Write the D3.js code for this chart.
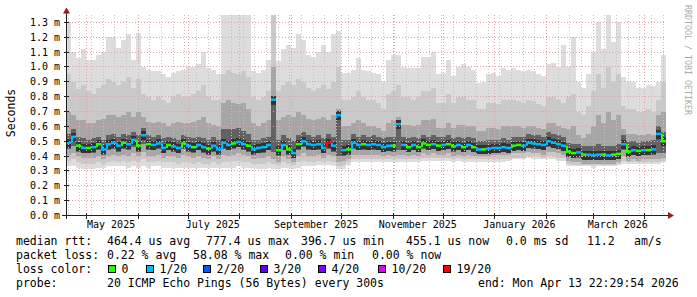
<!DOCTYPE html>
<html>
<head>
<meta charset="utf-8">
<script src="https://cdn.jsdelivr.net/npm/d3@7"></script>
<style>
  body { margin: 0; background: #fff; }
  text { font-family: "DejaVu Sans Mono", monospace; fill: #000; }
</style>
</head>
<body>
<div id="chart"></div>
<script>
// time span of the graph, one column every 3 days
const startTime = new Date(2025, 3, 18, 22, 29, 54);
const endTime = new Date(2026, 3, 13, 22, 29, 54);
const stepDays = 3;

const yTicks = [0, 0.1, 0.2, 0.3, 0.4, 0.5, 0.6, 0.7, 0.8, 0.9, 1.0, 1.1, 1.2, 1.3];

// median rtt per column (ms)
const medianRtt = [
  0.49, 0.53, 0.47, 0.455, 0.455, 0.46, 0.48, 0.445, 0.48, 0.49,
  0.47, 0.49, 0.48, 0.51, 0.47, 0.54, 0.48, 0.475, 0.485, 0.455,
  0.475, 0.465, 0.455, 0.485, 0.47, 0.46, 0.475, 0.46, 0.45, 0.47,
  0.445, 0.49, 0.475, 0.485, 0.495, 0.48, 0.47, 0.445, 0.455, 0.46,
  0.475, 0.78, 0.44, 0.475, 0.445, 0.42, 0.48, 0.50, 0.48, 0.475,
  0.48, 0.455, 0.49, 0.47, 0.675, 0.44, 0.445, 0.49, 0.475, 0.48,
  0.475, 0.48, 0.475, 0.46, 0.47, 0.47, 0.615, 0.475, 0.46, 0.475,
  0.46, 0.485, 0.475, 0.48, 0.47, 0.475, 0.48, 0.465, 0.475, 0.46,
  0.475, 0.46, 0.445, 0.445, 0.45, 0.455, 0.455, 0.46, 0.455, 0.47,
  0.475, 0.47, 0.49, 0.485, 0.48, 0.475, 0.50, 0.49, 0.48, 0.47,
  0.43, 0.42, 0.425, 0.41, 0.41, 0.405, 0.41, 0.41, 0.405, 0.41,
  0.415, 0.48, 0.43, 0.44, 0.435, 0.44, 0.44, 0.445, 0.55, 0.50
];

// lost pings out of 20 per column
const lossCount = [
  1, 1, 0, 1, 0, 1, 0, 1, 1, 1,
  1, 0, 1, 1, 0, 1, 0, 1, 1, 1,
  0, 1, 1, 0, 1, 0, 1, 1, 0, 1,
  1, 1, 1, 0, 1, 1, 0, 1, 1, 1,
  1, 1, 0, 1, 0, 1, 0, 1, 1, 1,
  1, 1, 19, 1, 1, 1, 0, 1, 1, 0,
  1, 1, 1, 1, 1, 0, 1, 1, 0, 1,
  0, 0, 0, 1, 0, 1, 0, 0, 1, 0,
  1, 0, 1, 0, 1, 1, 1, 1, 1, 0,
  0, 1, 1, 1, 1, 1, 1, 1, 1, 1,
  0, 0, 1, 0, 1, 1, 1, 0, 1, 0,
  0, 1, 0, 1, 0, 1, 0, 1, 1, 0
];

// smoke: sorted ping quantiles per column (ms)
const pingMax = [
  1.30, 1.10, 1.06, 1.12, 1.05, 1.05, 1.08, 1.10, 1.20, 1.20,
  1.13, 1.18, 1.22, 1.05, 1.23, 1.00, 0.98, 0.97, 0.97, 0.95,
  0.93, 0.96, 0.97, 0.98, 1.00, 1.00, 1.02, 1.10, 0.99, 0.98,
  0.95, 1.35, 1.35, 1.35, 1.35, 1.35, 1.35, 0.97, 0.96, 0.98,
  1.05, 1.35, 1.04, 1.12, 1.15, 1.13, 1.22, 1.18, 1.08, 1.07,
  1.10, 1.15, 1.10, 1.22, 1.24, 0.96, 0.96, 0.98, 1.06, 0.98,
  0.97, 0.96, 0.95, 0.90, 1.05, 1.08, 1.08, 1.00, 0.99, 0.99,
  0.99, 1.07, 1.07, 1.10, 0.95, 0.96, 1.05, 0.94, 1.00, 1.02,
  1.00, 0.98, 0.89, 0.90, 0.95, 0.96, 0.94, 0.99, 0.98, 0.99,
  0.98, 0.97, 0.98, 0.97, 0.95, 0.94, 1.02, 1.03, 1.00, 1.15,
  1.00, 1.20, 0.90, 0.86, 0.95, 1.10, 1.30, 1.12, 1.35, 1.17,
  1.30, 0.93, 0.90, 0.90, 0.86, 0.86, 0.88, 0.87, 0.90, 1.08
];
const pingQ90 = [
  0.95, 0.90, 0.85, 0.88, 0.84, 0.82, 0.86, 0.88, 0.92, 0.90,
  0.88, 0.90, 0.93, 0.86, 0.92, 0.82, 0.80, 0.78, 0.80, 0.78,
  0.76, 0.80, 0.82, 0.80, 0.80, 0.82, 0.84, 0.88, 0.80, 0.78,
  0.78, 0.95, 0.98, 0.96, 0.95, 0.97, 0.93, 0.80, 0.78, 0.80,
  0.84, 1.35, 0.84, 0.88, 0.90, 0.88, 0.92, 0.90, 0.86, 0.84,
  0.86, 0.88, 0.85, 0.90, 1.00, 0.78, 0.78, 0.80, 0.84, 0.80,
  0.78, 0.78, 0.76, 0.72, 0.82, 0.84, 0.88, 0.80, 0.80, 0.78,
  0.80, 0.84, 0.84, 0.86, 0.76, 0.76, 0.82, 0.76, 0.80, 0.80,
  0.78, 0.78, 0.72, 0.72, 0.76, 0.76, 0.75, 0.78, 0.78, 0.78,
  0.77, 0.76, 0.78, 0.77, 0.75, 0.74, 0.80, 0.80, 0.78, 0.76,
  0.80, 0.82, 0.70, 0.68, 0.74, 0.84, 0.95, 0.86, 1.00, 0.90,
  0.95, 0.74, 0.72, 0.72, 0.70, 0.70, 0.72, 0.70, 0.78, 0.90
];
const pingQ75 = [
  0.70, 0.68, 0.64, 0.64, 0.62, 0.62, 0.64, 0.65, 0.68, 0.68,
  0.66, 0.68, 0.70, 0.66, 0.70, 0.66, 0.63, 0.62, 0.63, 0.62,
  0.60, 0.62, 0.63, 0.62, 0.62, 0.63, 0.64, 0.66, 0.62, 0.61,
  0.60, 0.76, 0.78, 0.76, 0.75, 0.76, 0.72, 0.62, 0.60, 0.62,
  0.64, 1.00, 0.64, 0.66, 0.68, 0.66, 0.70, 0.68, 0.65, 0.64,
  0.65, 0.66, 0.64, 0.68, 0.72, 0.60, 0.60, 0.62, 0.64, 0.62,
  0.60, 0.60, 0.59, 0.57, 0.62, 0.64, 0.66, 0.61, 0.61, 0.60,
  0.61, 0.64, 0.64, 0.65, 0.59, 0.59, 0.62, 0.59, 0.61, 0.61,
  0.60, 0.60, 0.57, 0.57, 0.59, 0.59, 0.58, 0.60, 0.60, 0.60,
  0.60, 0.59, 0.60, 0.60, 0.59, 0.58, 0.62, 0.62, 0.60, 0.59,
  0.58, 0.60, 0.54, 0.52, 0.55, 0.60, 0.68, 0.62, 0.70, 0.64,
  0.68, 0.58, 0.55, 0.55, 0.54, 0.54, 0.55, 0.54, 0.68, 0.70
];
const pingQ60 = [
  0.55, 0.58, 0.53, 0.52, 0.51, 0.52, 0.53, 0.51, 0.54, 0.55,
  0.53, 0.55, 0.54, 0.56, 0.54, 0.59, 0.54, 0.53, 0.54, 0.52,
  0.53, 0.52, 0.51, 0.54, 0.53, 0.52, 0.53, 0.52, 0.51, 0.53,
  0.51, 0.58, 0.58, 0.58, 0.59, 0.57, 0.55, 0.51, 0.51, 0.52,
  0.53, 0.80, 0.51, 0.54, 0.52, 0.50, 0.54, 0.56, 0.54, 0.53,
  0.54, 0.52, 0.55, 0.53, 0.69, 0.51, 0.51, 0.55, 0.53, 0.54,
  0.53, 0.54, 0.53, 0.52, 0.53, 0.53, 0.63, 0.53, 0.52, 0.53,
  0.52, 0.54, 0.53, 0.54, 0.53, 0.53, 0.54, 0.52, 0.53, 0.52,
  0.53, 0.52, 0.50, 0.50, 0.51, 0.51, 0.51, 0.52, 0.51, 0.53,
  0.53, 0.53, 0.55, 0.54, 0.54, 0.53, 0.56, 0.55, 0.54, 0.53,
  0.49, 0.48, 0.48, 0.47, 0.47, 0.47, 0.48, 0.47, 0.47, 0.47,
  0.48, 0.54, 0.50, 0.50, 0.49, 0.50, 0.50, 0.51, 0.60, 0.56
];
const pingQ40 = [
  0.45, 0.47, 0.43, 0.42, 0.42, 0.42, 0.44, 0.41, 0.44, 0.45,
  0.43, 0.45, 0.44, 0.46, 0.43, 0.48, 0.44, 0.44, 0.45, 0.42,
  0.44, 0.43, 0.42, 0.45, 0.43, 0.42, 0.44, 0.42, 0.41, 0.43,
  0.41, 0.45, 0.44, 0.45, 0.46, 0.44, 0.43, 0.41, 0.42, 0.42,
  0.44, 0.43, 0.40, 0.44, 0.41, 0.39, 0.44, 0.46, 0.44, 0.44,
  0.44, 0.42, 0.45, 0.43, 0.40, 0.40, 0.41, 0.45, 0.44, 0.44,
  0.44, 0.44, 0.44, 0.43, 0.44, 0.43, 0.44, 0.44, 0.43, 0.44,
  0.43, 0.45, 0.44, 0.45, 0.44, 0.44, 0.45, 0.43, 0.44, 0.43,
  0.44, 0.43, 0.42, 0.42, 0.42, 0.43, 0.43, 0.43, 0.43, 0.44,
  0.44, 0.44, 0.46, 0.45, 0.45, 0.44, 0.46, 0.46, 0.45, 0.44,
  0.40, 0.39, 0.39, 0.38, 0.38, 0.38, 0.38, 0.38, 0.38, 0.38,
  0.39, 0.44, 0.40, 0.41, 0.40, 0.41, 0.41, 0.41, 0.42, 0.42
];
const pingQ25 = [
  0.41, 0.42, 0.40, 0.39, 0.39, 0.39, 0.40, 0.38, 0.40, 0.41,
  0.40, 0.41, 0.40, 0.42, 0.40, 0.43, 0.40, 0.40, 0.41, 0.39,
  0.40, 0.40, 0.39, 0.41, 0.40, 0.39, 0.40, 0.39, 0.38, 0.40,
  0.38, 0.41, 0.40, 0.41, 0.42, 0.41, 0.40, 0.38, 0.39, 0.39,
  0.40, 0.38, 0.36, 0.40, 0.38, 0.36, 0.40, 0.42, 0.40, 0.40,
  0.41, 0.39, 0.41, 0.40, 0.36, 0.37, 0.38, 0.41, 0.41, 0.41,
  0.41, 0.41, 0.41, 0.40, 0.41, 0.40, 0.41, 0.41, 0.40, 0.41,
  0.40, 0.42, 0.41, 0.42, 0.41, 0.41, 0.42, 0.40, 0.41, 0.40,
  0.41, 0.40, 0.40, 0.40, 0.40, 0.41, 0.41, 0.41, 0.41, 0.42,
  0.42, 0.42, 0.43, 0.42, 0.42, 0.41, 0.43, 0.43, 0.42, 0.41,
  0.37, 0.36, 0.36, 0.35, 0.35, 0.35, 0.35, 0.35, 0.35, 0.35,
  0.36, 0.40, 0.37, 0.38, 0.37, 0.38, 0.38, 0.38, 0.38, 0.39
];
const pingQ10 = [
  0.37, 0.38, 0.36, 0.35, 0.35, 0.35, 0.36, 0.35, 0.36, 0.37,
  0.36, 0.37, 0.36, 0.37, 0.36, 0.38, 0.36, 0.36, 0.37, 0.36,
  0.36, 0.36, 0.35, 0.36, 0.36, 0.35, 0.36, 0.35, 0.35, 0.36,
  0.35, 0.36, 0.36, 0.37, 0.37, 0.36, 0.36, 0.35, 0.35, 0.35,
  0.36, 0.35, 0.34, 0.36, 0.35, 0.34, 0.36, 0.37, 0.36, 0.36,
  0.37, 0.36, 0.37, 0.36, 0.33, 0.34, 0.36, 0.38, 0.38, 0.38,
  0.38, 0.38, 0.38, 0.38, 0.38, 0.38, 0.38, 0.38, 0.38, 0.38,
  0.38, 0.39, 0.39, 0.39, 0.39, 0.39, 0.39, 0.38, 0.39, 0.38,
  0.38, 0.38, 0.38, 0.38, 0.38, 0.38, 0.38, 0.38, 0.38, 0.39,
  0.39, 0.39, 0.40, 0.40, 0.40, 0.39, 0.40, 0.40, 0.39, 0.39,
  0.35, 0.34, 0.34, 0.34, 0.34, 0.34, 0.34, 0.34, 0.34, 0.34,
  0.35, 0.37, 0.36, 0.36, 0.36, 0.36, 0.36, 0.36, 0.36, 0.37
];
const pingMin = [
  0.33, 0.33, 0.32, 0.31, 0.31, 0.31, 0.32, 0.32, 0.33, 0.33,
  0.33, 0.33, 0.32, 0.33, 0.32, 0.33, 0.32, 0.33, 0.33, 0.32,
  0.32, 0.32, 0.32, 0.32, 0.32, 0.32, 0.32, 0.32, 0.32, 0.32,
  0.32, 0.32, 0.32, 0.32, 0.33, 0.32, 0.32, 0.32, 0.31, 0.31,
  0.32, 0.31, 0.31, 0.32, 0.32, 0.31, 0.32, 0.33, 0.33, 0.33,
  0.34, 0.34, 0.34, 0.33, 0.31, 0.31, 0.34, 0.36, 0.36, 0.36,
  0.36, 0.36, 0.36, 0.36, 0.36, 0.36, 0.36, 0.36, 0.36, 0.36,
  0.36, 0.37, 0.37, 0.37, 0.37, 0.37, 0.37, 0.36, 0.37, 0.36,
  0.36, 0.36, 0.36, 0.36, 0.36, 0.36, 0.36, 0.36, 0.37, 0.38,
  0.38, 0.38, 0.39, 0.38, 0.38, 0.38, 0.38, 0.38, 0.37, 0.37,
  0.33, 0.33, 0.33, 0.33, 0.33, 0.32, 0.33, 0.33, 0.33, 0.33,
  0.34, 0.35, 0.35, 0.35, 0.35, 0.35, 0.35, 0.35, 0.35, 0.36
];

// smokeping loss colours
const lossLevels = [0, 1, 2, 3, 4, 10, 19];
const lossLabels = ['0', '1/20', '2/20', '3/20', '4/20', '10/20', '19/20'];
const lossColors = ['#26ff00', '#00b8ff', '#0059ff', '#5e00ff', '#7e00ff', '#dd00ff', '#ff0000'];

const statLines = [
  ['median rtt:', '464.4 us avg', '777.4 us max', '396.7 us min', '455.1 us now', '0.0 ms sd', '11.2', 'am/s'],
  ['packet loss:', '0.22 % avg', '58.08 % max', '0.00 % min', '0.00 % now'],
  ['probe:', '20 ICMP Echo Pings (56 Bytes) every 300s', 'end: Mon Apr 13 22:29:54 2026']
];

const draw = () => {
  const W = 697, H = 297;
  const plot = {left: 66, right: 666, top: 15, bottom: 215.5};
  const svg = d3.select('#chart').append('svg')
    .attr('width', W).attr('height', H)
    .style('display', 'block');

  const x = d3.scaleTime().domain([startTime, endTime]).range([plot.left, plot.right]);
  const y = d3.scaleLinear().domain([0, 1.35]).range([plot.bottom, plot.top]).clamp(true);
  const colStart = i => d3.timeDay.offset(startTime, i * stepDays);
  const idx = d3.range(medianRtt.length);
  const lossColor = n => lossColors[d3.bisectRight(lossLevels, n) - 1];

  // smoke bands, outer to inner
  const bands = [
    {lo: pingMin, hi: pingMax, color: '#dddddd'},
    {lo: pingQ10, hi: pingQ90, color: '#c9c9c9'},
    {lo: pingQ25, hi: pingQ75, color: '#a6a6a6'},
    {lo: pingQ40, hi: pingQ60, color: '#626262'}
  ];
  const smoke = svg.append('g').attr('shape-rendering', 'crispEdges');
  bands.forEach(b => {
    smoke.append('g').selectAll('rect')
      .data(idx)
      .join('rect')
      .attr('x', i => x(colStart(i)))
      .attr('width', i => x(colStart(i + 1)) - x(colStart(i)))
      .attr('y', i => y(b.hi[i]))
      .attr('height', i => y(b.lo[i]) - y(b.hi[i]))
      .attr('fill', b.color);
  });
  // darkest smoke hugging the median
  smoke.append('g').selectAll('rect')
    .data(idx)
    .join('rect')
    .attr('x', i => x(colStart(i)))
    .attr('width', i => x(colStart(i + 1)) - x(colStart(i)))
    .attr('y', i => y(medianRtt[i]) - 4)
    .attr('height', 9)
    .attr('fill', '#333333');

  // grid
  const grid = svg.append('g');
  const px = v => Math.round(v) + 0.5;
  const months = d3.timeMonth.range(startTime, endTime);
  const monthKeys = new Set(months.map(d => +d3.timeDay.floor(d)));
  const weeks = d3.timeWeek.range(startTime, endTime).filter(d => !monthKeys.has(+d));
  grid.selectAll('.minor')
    .data(weeks)
    .join('line')
    .attr('x1', d => px(x(d))).attr('x2', d => px(x(d)))
    .attr('y1', plot.top).attr('y2', plot.bottom)
    .attr('stroke', '#c4c4c4').attr('stroke-dasharray', '1,2');
  grid.selectAll('.major')
    .data(months)
    .join('line')
    .attr('x1', d => px(x(d))).attr('x2', d => px(x(d)))
    .attr('y1', plot.top).attr('y2', plot.bottom)
    .attr('stroke', '#e3a2a2').attr('stroke-dasharray', '1,2');
  grid.selectAll('.hgrid')
    .data(yTicks.slice(1))
    .join('line')
    .attr('x1', plot.left).attr('x2', plot.right)
    .attr('y1', d => px(y(d) - 0.5)).attr('y2', d => px(y(d) - 0.5))
    .attr('stroke', '#e3a2a2').attr('stroke-dasharray', '1,2');

  // median line, coloured by loss
  const med = svg.append('g').attr('stroke-width', 2.5).attr('fill', 'none');
  med.selectAll('.seg')
    .data(idx)
    .join('line')
    .attr('x1', i => x(colStart(i))).attr('x2', i => x(colStart(i + 1)))
    .attr('y1', i => y(medianRtt[i])).attr('y2', i => y(medianRtt[i]))
    .attr('stroke', i => lossColor(lossCount[i]));
  med.selectAll('.step')
    .data(idx.slice(1).filter(i => Math.abs(medianRtt[i] - medianRtt[i - 1]) < 0.06))
    .join('line')
    .attr('x1', i => x(colStart(i)) + 1).attr('x2', i => x(colStart(i)) + 1)
    .attr('y1', i => y(medianRtt[i - 1])).attr('y2', i => y(medianRtt[i]))
    .attr('stroke-width', 2)
    .attr('stroke', i => lossColor(lossCount[i]));

  // axes
  const axis = svg.append('g').attr('stroke', '#222').attr('shape-rendering', 'crispEdges');
  axis.append('line').attr('x1', 62).attr('x2', 670).attr('y1', 215.5).attr('y2', 215.5);
  axis.append('line').attr('x1', 66.5).attr('x2', 66.5).attr('y1', 11).attr('y2', 219);
  axis.selectAll('.xt')
    .data(months)
    .join('line')
    .attr('x1', d => px(x(d))).attr('x2', d => px(x(d)))
    .attr('y1', 213).attr('y2', 219);
  axis.selectAll('.yt')
    .data(yTicks.slice(1))
    .join('line')
    .attr('x1', 64).attr('x2', 69)
    .attr('y1', d => px(y(d) - 0.5)).attr('y2', d => px(y(d) - 0.5));
  svg.append('path').attr('d', 'M66.5,7.5L70,13.5L63,13.5Z').attr('fill', '#9b1b1b');
  svg.append('path').attr('d', 'M674,215.5L668,212L668,219Z').attr('fill', '#9b1b1b');

  // tick labels
  svg.append('g').selectAll('text')
    .data(yTicks)
    .join('text')
    .attr('x', 60).attr('y', d => y(d))
    .attr('dy', '0.35em')
    .attr('text-anchor', 'end')
    .style('font-size', '10px')
    .text(d => d3.format('.1f')(d) + ' m');
  const fmt = d3.timeFormat('%B %Y');
  svg.append('g').selectAll('text')
    .data(months.filter(d => d.getMonth() % 2 === 0))
    .join('text')
    .attr('x', d => x(d3.timeDay.offset(d, 15)))
    .attr('y', 228)
    .attr('text-anchor', 'middle')
    .style('font-size', '10px')
    .text(d => fmt(d));

  svg.append('text')
    .attr('transform', 'translate(15,113) rotate(-90)')
    .attr('text-anchor', 'middle')
    .style('font-size', '11.5px')
    .text('Seconds');
  svg.append('text')
    .attr('transform', 'translate(685,5) rotate(90)')
    .style('font-size', '8.3px')
    .style('fill', '#ababab')
    .text('RRDTOOL / TOBI OETIKER');

  // legend
  const leg = svg.append('g').style('font-size', '11.5px').attr('xml:space', 'preserve');
  const row1x = [16, 107, 206, 301, 406, 506, 587, 634];
  const row2x = [16, 107, 193, 285, 372];
  const row4x = [16, 107, 478];
  statLines[0].forEach((t, i) => leg.append('text').attr('x', row1x[i]).attr('y', 245).text(t));
  statLines[1].forEach((t, i) => leg.append('text').attr('x', row2x[i]).attr('y', 259).text(t));
  statLines[2].forEach((t, i) => leg.append('text').attr('x', row4x[i]).attr('y', 287).text(t));
  leg.append('text').attr('x', 16).attr('y', 273).text('loss color:');
  const boxX = [108.5, 146.5, 203.5, 260.5, 318.5, 378.5, 443.5];
  lossLabels.forEach((l, i) => {
    leg.append('rect')
      .attr('x', boxX[i]).attr('y', 265.5)
      .attr('width', 7).attr('height', 7)
      .attr('fill', lossColors[i]).attr('stroke', '#000');
    leg.append('text').attr('x', boxX[i] + 13).attr('y', 273).text(l);
  });
};

draw();
</script>
</body>
</html>
